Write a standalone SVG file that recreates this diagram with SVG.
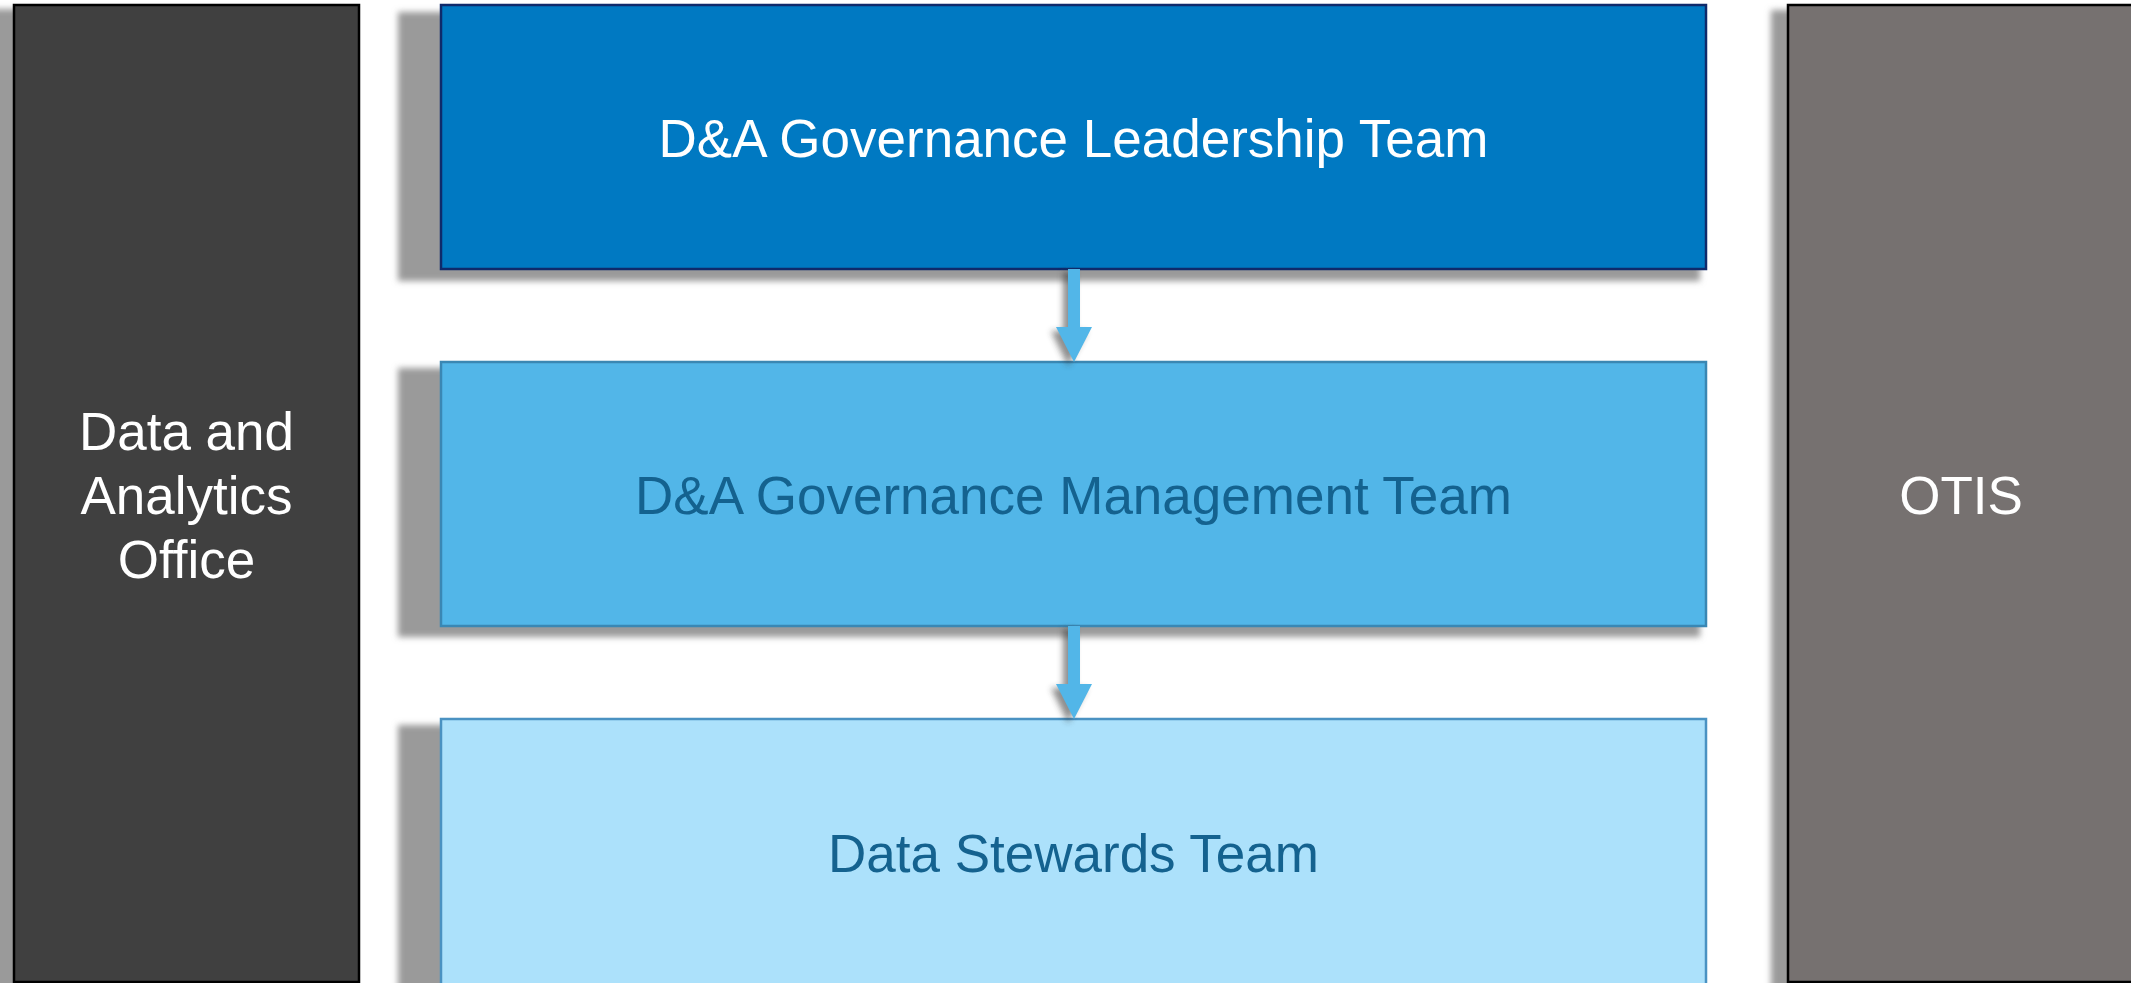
<svg xmlns="http://www.w3.org/2000/svg" width="2131" height="983" viewBox="0 0 2131 983">
<defs>
<filter id="blur" x="-10%" y="-10%" width="120%" height="120%"><feGaussianBlur stdDeviation="3"/></filter>
<filter id="ashadow" x="-50%" y="-50%" width="200%" height="200%"><feGaussianBlur stdDeviation="3"/></filter>
<style>
.shadow{fill:#9a9a9a;filter:url(#blur)}
.lbl{font-family:"Liberation Sans",Arial,sans-serif;font-size:53px;text-anchor:middle}
.white{fill:#ffffff}
.dark{fill:#14628f}
.arrow{fill:#52b6e8}
.arrowsh{fill:#333;opacity:0.55;filter:url(#ashadow)}
</style>
</defs>
<rect width="2131" height="983" fill="#ffffff"/>

<g id="node-daoffice">
<rect class="shadow" x="-30" y="9" width="370" height="990"/>
<rect x="14" y="5" width="345" height="977" fill="#404040" stroke="#000" stroke-width="2.5"/>
<text class="lbl white" x="186.5" y="450">Data and</text>
<text class="lbl white" x="186.5" y="514">Analytics</text>
<text class="lbl white" x="186.5" y="578">Office</text>
</g>

<g id="node-otis">
<rect class="shadow" x="1771" y="10" width="370" height="990"/>
<rect x="1788" y="5" width="345" height="977" fill="#767170" stroke="#000" stroke-width="2.5"/>
<text class="lbl white" x="1961" y="514">OTIS</text>
</g>

<g id="node-leadership">
<rect class="shadow" x="398" y="12" width="1302" height="269"/>
<rect x="441" y="5" width="1265" height="264" fill="#0079c2" stroke="#0f2a6b" stroke-width="2.5"/>
<text class="lbl white" x="1073.5" y="157">D&amp;A Governance Leadership Team</text>
</g>

<g id="node-management">
<rect class="shadow" x="398" y="368" width="1302" height="269"/>
<rect x="441" y="362" width="1265" height="264" fill="#52b6e8" stroke="#3a87b3" stroke-width="2.5"/>
<text class="lbl dark" x="1073.5" y="514">D&amp;A Governance Management Team</text>
</g>

<g id="node-stewards">
<rect class="shadow" x="398" y="725" width="1302" height="269"/>
<rect x="441" y="719" width="1265" height="270" fill="#ace1fb" stroke="#4a92c2" stroke-width="2.5"/>
<text class="lbl dark" x="1073.5" y="872">Data Stewards Team</text>
</g>

<g id="connectors">
<path class="arrowsh" d="M1063,272 H1075 V331 H1087 L1068,366 L1051,331 H1063 Z"/>
<path class="arrow" d="M1068,269 H1080 V327 H1092 L1074,362 L1056,327 H1068 Z"/>
<path class="arrowsh" d="M1063,629 H1075 V688 H1087 L1068,723 L1051,688 H1063 Z"/>
<path class="arrow" d="M1068,626 H1080 V684 H1092 L1074,719 L1056,684 H1068 Z"/>
</g>
</svg>
